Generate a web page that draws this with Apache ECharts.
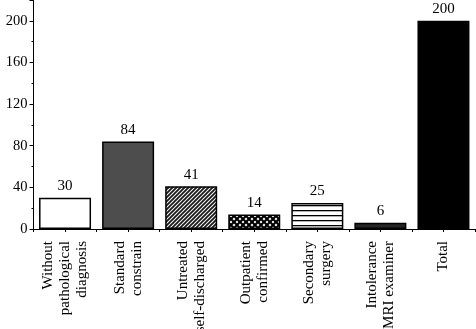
<!DOCTYPE html>
<html>
<head>
<meta charset="utf-8">
<script src="https://cdn.jsdelivr.net/npm/echarts@6/dist/echarts.min.js"></script>
<style>html,body{margin:0;padding:0;background:#fff}#c{width:476px;height:329px}</style>
</head>
<body>
<div id="c"></div>
<script>
var categories = ["Without\npathological\ndiagnosis", "Standard\nconstrain", "Untreated\nself-discharged", "Outpatient\nconfirmed", "Secondary\nsurgery", "Intolerance\nMRI examiner", "Total"];
var values = [30, 84, 41, 14, 25, 6, 200];
var yTicks = [0, 40, 80, 120, 160, 200];

var FONT = "Liberation Serif";

function mk(w, h, draw) {
  var c = document.createElement('canvas');
  c.width = w; c.height = h;
  var ctx = c.getContext('2d');
  draw(ctx, w, h);
  return { image: c, repeat: 'repeat' };
}
var diag = mk(4, 4, function (ctx, w, h) {
  ctx.fillStyle = '#fff'; ctx.fillRect(0, 0, w, h);
  ctx.strokeStyle = '#1a1a1a'; ctx.lineWidth = 1.9;
  ctx.beginPath();
  ctx.moveTo(-1, 5); ctx.lineTo(5, -1);
  ctx.moveTo(-1, 1); ctx.lineTo(1, -1);
  ctx.moveTo(3, 5); ctx.lineTo(5, 3);
  ctx.stroke();
});
var cross = mk(6, 6, function (ctx, w, h) {
  ctx.fillStyle = '#fff'; ctx.fillRect(0, 0, w, h);
  ctx.strokeStyle = '#000'; ctx.lineWidth = 2.2;
  ctx.beginPath();
  ctx.moveTo(-1, -1); ctx.lineTo(7, 7);
  ctx.moveTo(-1, 7); ctx.lineTo(7, -1);
  ctx.stroke();
});
var horiz = mk(4, 5, function (ctx, w, h) {
  ctx.fillStyle = '#fff'; ctx.fillRect(0, 0, w, h);
  ctx.fillStyle = '#000'; ctx.fillRect(0, 0, w, 1.3);
});
var fills = ['#ffffff', '#4d4d4d', diag, cross, horiz, '#262626', '#000000'];

var data = values.map(function (v, i) {
  return { value: v, itemStyle: { color: fills[i] } };
});

var chart = echarts.init(document.getElementById('c'), null, { renderer: 'canvas' });
chart.setOption({
  animation: false,
  grid: { left: 33.5, right: 1, top: 0, bottom: 100, containLabel: false, outerBoundsMode: 'none' },
  xAxis: [{
    type: 'category',
    data: categories,
    axisLine: { lineStyle: { color: '#000', width: 1 } },
    axisTick: { show: true, interval: 0, length: 3, lineStyle: { color: '#000' } },
    axisLabel: { interval: 0, rotate: 90, margin: 12, color: '#000', fontFamily: FONT, fontSize: 15, lineHeight: 17 }
  }, {
    type: 'category',
    data: categories,
    position: 'bottom',
    axisLine: { show: false },
    axisTick: { show: true, alignWithLabel: true, interval: 0, length: 3, lineStyle: { color: '#000' } },
    axisLabel: { show: false }
  }],
  yAxis: {
    type: 'value',
    min: 0, max: 220, interval: 40,
    splitLine: { show: false },
    axisLine: { show: true, lineStyle: { color: '#000', width: 1 } },
    axisTick: { show: true, length: 4, lineStyle: { color: '#000' } },
    minorTick: { show: true, splitNumber: 2, length: 2, lineStyle: { color: '#000' } },
    axisLabel: {
      color: '#000', fontFamily: FONT, fontSize: 14.5, margin: 6,
      showMaxLabel: false,
      formatter: function (v) { return yTicks.indexOf(v) >= 0 ? String(v) : ''; }
    }
  },
  series: [{
    type: 'bar',
    xAxisIndex: 0,
    data: data,
    barWidth: 52,
    itemStyle: { borderColor: '#000', borderWidth: 1.5 },
    label: { show: true, position: 'top', distance: 4, color: '#000', fontFamily: FONT, fontSize: 15 }
  }]
});
</script>
</body>
</html>
